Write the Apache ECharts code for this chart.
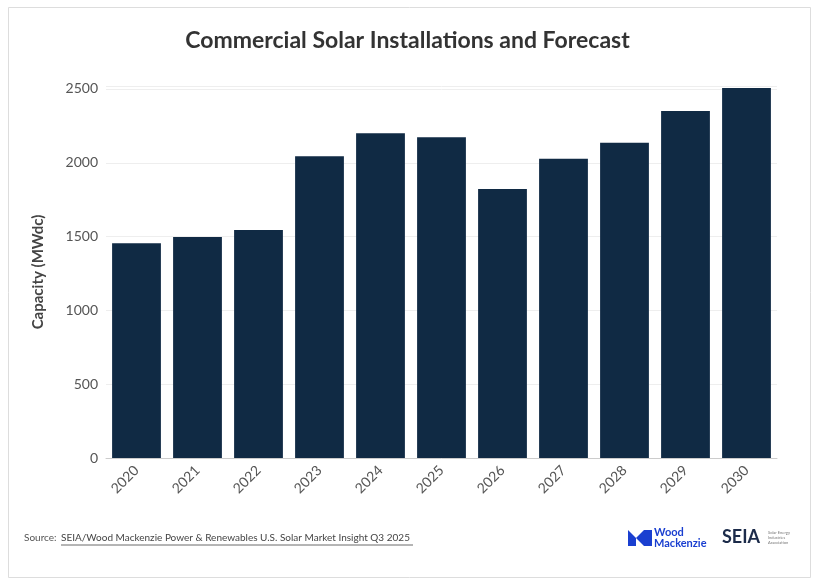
<!DOCTYPE html>
<html>
<head>
<meta charset="utf-8">
<script src="https://cdn.jsdelivr.net/npm/echarts@6/dist/echarts.min.js"></script>
<style>
html,body{margin:0;padding:0;background:#fff;}
#chart{width:815px;height:582px;}
</style>
</head>
<body>
<div id="chart"></div>
<script>
var years = ['2020','2021','2022','2023','2024','2025','2026','2027','2028','2029','2030'];
var capacity = [1455, 1497, 1545, 2044, 2200, 2173, 1822, 2028, 2136, 2351, 2507];

var myChart = echarts.init(document.getElementById('chart'));
var font = 'Lato, "Open Sans", sans-serif';

var option = {
    backgroundColor: '#fff',
    textStyle: {fontFamily: font},
    title: {
        text: 'Commercial Solar Installations and Forecast',
        left: 'center',
        top: 24,
        textStyle: {fontSize: 23, fontWeight: 'bold', color: '#333', fontFamily: font}
    },
    grid: {left: 106, right: 38, top: 86, bottom: 124},
    xAxis: {
        type: 'category',
        data: years,
        axisTick: {show: false},
        axisLine: {lineStyle: {color: '#ccc'}},
        axisLabel: {rotate: 45, color: '#555', fontSize: 14, margin: 10}
    },
    yAxis: {
        type: 'value',
        min: 0,
        max: 2520,
        interval: 500,
        name: 'Capacity (MWdc)',
        nameLocation: 'middle',
        nameGap: 60,
        nameTextStyle: {fontSize: 15, fontWeight: 'bold', color: '#444'},
        axisLabel: {color: '#555', fontSize: 14, showMaxLabel: false, formatter: function (v) { return String(v); }},
        splitLine: {lineStyle: {color: '#eee'}}
    },
    series: [{
        type: 'bar',
        data: capacity,
        barCategoryGap: '20%',
        itemStyle: {color: '#102a44'}
    }],
    graphic: [
        {type: 'rect', left: 6, top: 5, shape: {width: 802, height: 570},
         style: {fill: 'none', stroke: '#ddd', lineWidth: 1}, silent: true},
        {type: 'text', left: 24, top: 533,
         style: {text: 'Source: ', fill: '#555', font: '10px ' + font}},
        {type: 'text', left: 61, top: 533,
         style: {text: 'SEIA/Wood Mackenzie Power & Renewables U.S. Solar Market Insight Q3 2025', fill: '#444', font: '10px ' + font}},
        {type: 'line', shape: {x1: 61, y1: 545, x2: 413, y2: 545}, style: {stroke: '#444', lineWidth: 0.8}},
        {type: 'text', left: 654, top: 527,
         style: {text: 'Wood\nMackenzie', fill: '#1a3fd0', font: 'bold 11px ' + font, lineHeight: 11}},
        {type: 'polygon', shape: {points: [[628,546],[628,530],[636,538],[644,530],[652,530],[652,546],[644,546],[636,538],[636,546]]},
         style: {fill: '#1a3fd0'}},
        {type: 'text', left: 722, top: 528,
         style: {text: 'SEIA', fill: '#1c2b4a', font: 'bold 18px ' + font}},
        {type: 'text', left: 768, top: 530,
         style: {text: 'Solar Energy\nIndustries\nAssociation', fill: '#777', font: '4px ' + font, lineHeight: 5}}
    ]
};

myChart.setOption(option);
window.addEventListener('resize', function () { myChart.resize(); });
</script>
</body>
</html>
